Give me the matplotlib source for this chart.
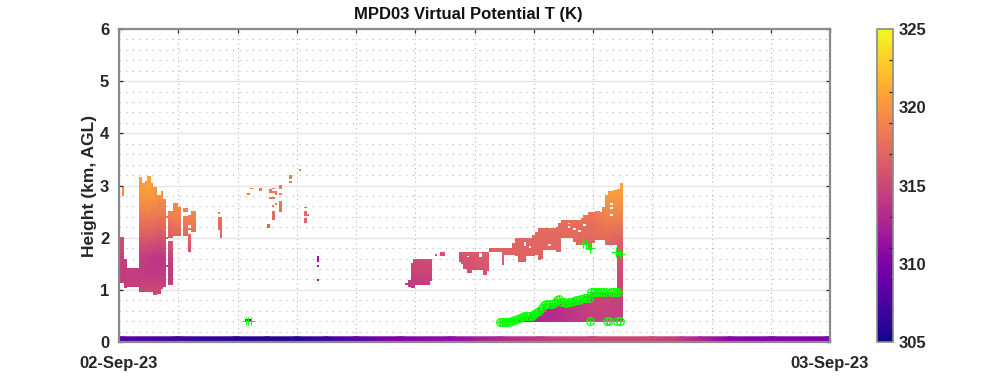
import numpy as np
import matplotlib
matplotlib.use("Agg")
import matplotlib.pyplot as plt
from matplotlib.path import Path

plt.rcParams["font.family"] = ["Liberation Sans", "DejaVu Sans"]
plt.rcParams["font.weight"] = "bold"

# virtual potential temperature (K), rows = field_km, cols = field_hours
field_hours = [0, 0.7, 1.0, 1.4, 1.8, 2.6, 4, 6, 7, 9.5, 11, 13, 14.5, 16, 16.5, 17.1]
field_km = [0.3, 0.7, 1.0, 1.3, 1.6, 2.0, 2.4, 2.8, 3.4]
field_T = [
    [314, 314, 314, 314, 314, 314, 310, 311, 311, 313, 313, 312, 313, 314.5, 314.5, 314.5],
    [314, 314, 314, 314, 314, 314, 310, 311, 311, 313, 313, 312.5, 313.2, 314.7, 314.6, 314.5],
    [314.3, 314.8, 315.2, 315, 314.8, 314.5, 312, 311.5, 311.5, 314, 314, 314.5, 314.5, 315, 315, 315],
    [314.3, 314.3, 314, 314.2, 314.2, 314.5, 312, 311.5, 311.5, 314.7, 315, 316, 316, 316, 315.7, 315.2],
    [314.5, 314.5, 314, 313.8, 314.7, 315, 312, 311.5, 311.5, 315.2, 315.5, 316.8, 316.8, 316.8, 316.3, 315.5],
    [315.5, 316.2, 316.3, 315.8, 316.7, 317.2, 316.7, 316.7, 316.7, 316, 316.5, 317, 317.2, 317.3, 317.4, 316.8],
    [318.2, 318.4, 318.5, 318, 318.7, 319.2, 317.2, 317.2, 317.2, 317, 317.3, 317.5, 317.8, 318, 319, 318.8],
    [319, 320, 320.3, 319.7, 319.5, 319.5, 318.3, 318.3, 318.3, 318, 318, 318.2, 318.4, 318.8, 320.3, 320.4],
    [319.3, 321, 321.2, 320.8, 320.3, 320, 318.7, 318.7, 318.7, 318.5, 318.5, 318.5, 318.7, 319.2, 321.5, 321.5],
]

# near-surface strip, lowest range gate
strip_hours = [0, 2, 4, 5, 6, 7, 8, 9.5, 11.2, 12.9, 14.2, 16, 18, 19, 19.6, 20.6, 22, 24]
strip_T = [308, 307, 306, 305.8, 306, 307, 308.5, 310.2, 311, 313, 314, 315, 315, 314, 312.5, 310.5, 310.3, 310]
strip_km = [0, 0.1]

# valid data boxes: hour start, hour end, km low, km high
morning_cols = [
    (0.0, 0.17, 1.13, 2.02), (0.09, 0.17, 2.79, 2.98), (0.17, 0.27, 1.03, 1.59),
    (0.27, 0.67, 1.06, 1.42), (0.67, 0.78, 0.95, 3.16), (0.78, 0.88, 0.95, 3.05),
    (0.88, 0.96, 0.95, 3.08), (0.96, 1.07, 0.95, 3.19), (1.07, 1.16, 0.95, 3.05),
    (1.16, 1.27, 0.90, 2.97), (1.27, 1.41, 0.92, 2.82), (1.41, 1.50, 1.02, 2.89),
    (1.50, 1.59, 1.06, 2.74), (1.59, 1.66, 2.38, 2.42), (1.59, 1.66, 1.98, 2.02),
    (1.59, 1.66, 1.43, 1.47), (1.66, 1.83, 1.99, 2.52), (1.66, 1.83, 1.09, 1.94),
    (1.83, 2.00, 2.04, 2.67), (2.00, 2.08, 2.04, 2.59), (2.17, 2.32, 2.04, 2.42),
    (2.17, 2.32, 2.50, 2.57), (2.34, 2.42, 1.73, 2.07), (2.34, 2.42, 2.24, 2.43),
    (2.32, 2.59, 2.15, 2.19), (2.42, 2.59, 2.10, 2.52), (3.33, 3.49, 2.15, 2.40),
    (3.41, 3.49, 2.00, 2.15), (3.33, 3.41, 2.45, 2.49),
]
scatter_cols = [
    (4.42, 4.51, 2.93, 2.96), (4.74, 4.83, 2.89, 2.96), (4.33, 4.42, 2.82, 2.86),
    (5.07, 5.16, 2.86, 2.93), (5.07, 5.32, 2.86, 2.89), (5.16, 5.25, 2.93, 2.96),
    (5.25, 5.32, 2.82, 2.89), (5.41, 5.50, 2.93, 3.01), (5.41, 5.50, 2.82, 2.86),
    (5.07, 5.25, 2.74, 2.78), (5.25, 5.32, 2.63, 2.66), (5.16, 5.23, 2.59, 2.63),
    (5.16, 5.25, 2.34, 2.51), (5.41, 5.50, 2.49, 2.70), (5.01, 5.10, 2.18, 2.26),
    (5.75, 5.84, 3.12, 3.20), (5.75, 5.84, 3.05, 3.09), (6.07, 6.16, 3.27, 3.32),
    (6.24, 6.33, 2.56, 2.59), (6.24, 6.33, 2.42, 2.51), (6.24, 6.42, 2.42, 2.45),
    (6.24, 6.33, 2.29, 2.37), (6.67, 6.74, 1.54, 1.65), (6.67, 6.74, 1.43, 1.47),
    (6.67, 6.74, 1.17, 1.21), (4.25, 4.50, 0.39, 0.44),
]
midday_cols = [
    (9.65, 9.75, 1.09, 1.125), (9.75, 9.85, 1.05, 1.19), (9.85, 9.99, 1.03, 1.51),
    (9.91, 10.5, 1.09, 1.585), (10.5, 10.57, 1.16, 1.60), (10.66, 10.74, 1.65, 1.69),
    (10.83, 10.99, 1.65, 1.73),
]
ridge_cols = [
    (11.49, 11.54, 1.54, 1.73), (11.54, 11.62, 1.50, 1.73), (11.62, 11.76, 1.39, 1.73),
    (11.76, 11.91, 1.32, 1.73), (11.91, 12.30, 1.38, 1.73), (12.30, 12.41, 1.28, 1.73),
    (12.41, 12.50, 1.37, 1.73), (12.50, 12.92, 1.73, 1.80), (12.92, 12.99, 1.48, 1.80),
    (12.99, 13.25, 1.67, 1.80), (13.25, 13.36, 1.67, 1.89), (13.36, 13.48, 1.65, 1.99),
    (13.48, 13.74, 1.54, 1.99), (13.74, 13.93, 1.65, 1.99), (13.93, 14.04, 1.65, 2.05),
    (14.04, 14.15, 1.67, 2.10), (14.15, 14.26, 1.57, 2.18), (14.26, 14.32, 1.60, 2.18),
    (14.32, 14.75, 1.76, 2.18), (14.75, 14.83, 1.73, 2.21), (14.83, 14.91, 1.73, 2.29),
    (14.91, 15.33, 1.99, 2.33), (15.33, 15.42, 1.92, 2.33), (15.42, 15.58, 1.85, 2.33),
    (15.58, 15.67, 1.85, 2.37), (15.67, 15.84, 1.85, 2.43), (15.84, 15.98, 1.76, 2.49),
    (15.98, 16.06, 1.89, 2.49), (16.06, 16.23, 1.96, 2.52), (16.23, 16.32, 1.96, 2.49),
    (16.32, 16.41, 1.96, 2.58), (16.41, 16.50, 1.85, 2.82), (16.50, 16.66, 1.85, 2.89),
    (16.66, 16.82, 1.85, 2.91), (16.82, 16.91, 0.38, 2.93), (16.91, 17.00, 0.38, 3.05),
]
wedge_cols = [
    (13.42, 13.65, 0.38, 0.42), (13.65, 13.87, 0.38, 0.47), (13.87, 14.10, 0.38, 0.53),
    (14.10, 14.27, 0.38, 0.61), (14.27, 14.49, 0.38, 0.68), (14.49, 14.83, 0.38, 0.72),
    (14.83, 15.33, 0.38, 0.79), (15.33, 15.67, 0.38, 0.82), (15.67, 15.89, 0.38, 0.89),
    (15.89, 16.85, 0.38, 0.96),
]
holes = [
    (14.49, 14.58, 1.84, 1.88), (15.16, 15.24, 2.26, 2.29), (15.16, 15.24, 2.18, 2.22),
    (15.33, 15.41, 2.14, 2.18), (15.49, 15.58, 2.10, 2.14), (15.67, 15.75, 2.22, 2.26),
    (16.57, 16.66, 2.63, 2.66), (16.57, 16.66, 2.55, 2.59), (16.57, 16.66, 2.41, 2.45),
    (11.73, 11.82, 1.62, 1.65), (12.16, 12.24, 1.62, 1.70), (13.67, 13.74, 1.84, 1.92),
    (13.85, 13.92, 1.80, 1.84),
]

# boundary layer height detections
pbl_hours = [12.85, 12.93, 13.02, 13.10, 13.18, 13.27, 13.35, 13.43, 13.52, 13.60,
             13.68, 13.77, 13.85, 13.93, 14.02, 14.10, 14.18, 14.27, 14.35, 14.43,
             14.52, 14.60, 14.68, 14.77, 14.85, 14.93, 15.02, 15.10, 15.18, 15.27,
             15.35, 15.43, 15.52, 15.60, 15.68, 15.77, 15.85, 15.93, 16.02, 16.10,
             16.18, 16.27, 16.35, 16.43, 16.60, 16.68, 16.77, 16.85]
pbl_km = [.38, .38, .38, .38, .39, .41, .43, .44, .46, .47,
          .49, .50, .50, .50, .53, .57, .60, .66, .70, .72,
          .72, .73, .75, .80, .83, .77, .76, .75, .76, .76,
          .78, .80, .80, .83, .85, .84, .84, .95, .96, .96,
          .96, .96, .96, .96, .96, .96, .96, .96]
low_hours = [4.28, 4.36, 4.44, 15.9, 16.46, 16.55, 16.8, 16.9]
low_km = [.41, .41, .41, .41, .41, .41, .41, .41]
plus_hours = [15.67, 15.78, 15.89, 16.77, 16.91]
plus_km = [1.89, 1.87, 1.81, 1.73, 1.69]

hour_ticks = [0, 2, 4, 6, 8, 10, 12, 14, 16, 18, 20, 22, 24]
hour_labels = ["02-Sep-23", "", "", "", "", "", "", "", "", "", "", "", "03-Sep-23"]
cbar_labels = [305, 310, 315, 320, 325]
cbar_minor = [307, 309, 311, 313, 317, 319, 321, 323]


def box_path(solid, cut):
    verts, codes = [], []
    for x0, x1, y0, y1 in solid:
        verts += [(x0, y0), (x1, y0), (x1, y1), (x0, y1), (x0, y0)]
        codes += [Path.MOVETO, Path.LINETO, Path.LINETO, Path.LINETO, Path.CLOSEPOLY]
    # reverse winding so these punch through
    for x0, x1, y0, y1 in cut:
        verts += [(x0, y0), (x0, y1), (x1, y1), (x1, y0), (x0, y0)]
        codes += [Path.MOVETO, Path.LINETO, Path.LINETO, Path.LINETO, Path.CLOSEPOLY]
    return Path(verts, codes)


ink = "#262626"
spine = "#8a8a8a"
green = "#00ff00"

fig = plt.figure(figsize=(10, 3.85), dpi=100)
ax = fig.add_axes([0.119, 1 - 342 / 385, 0.711, 313 / 385])
cax = fig.add_axes([0.877, 1 - 342 / 385, 0.016, 313 / 385])

mesh = ax.pcolormesh(field_hours, field_km, np.array(field_T), cmap="plasma",
                     vmin=305, vmax=325, shading="gouraud", zorder=2)
all_cols = morning_cols + scatter_cols + midday_cols + ridge_cols + wedge_cols
mesh.set_clip_path(box_path(all_cols, holes), ax.transData)

ax.pcolormesh(strip_hours, strip_km, np.vstack([strip_T, strip_T]), cmap="plasma",
              vmin=305, vmax=325, shading="gouraud", zorder=2)

ax.plot(pbl_hours, pbl_km, "o", ms=5.5, mfc="none", mec=green, mew=0.8, zorder=3)
ax.plot(pbl_hours, pbl_km, "+", ms=6, mec=green, mew=0.7, zorder=3)
ax.plot(low_hours[3:], low_km[3:], "o", ms=5.5, mfc="none", mec=green, mew=0.8, zorder=3)
ax.plot(low_hours, low_km, "+", ms=6, mec=green, mew=0.7, zorder=3)
ax.plot(plus_hours, plus_km, "+", ms=7.5, mec=green, mew=0.9, zorder=3)

ax.set_xlim(0, 24)
ax.set_ylim(0, 6)
ax.set_xticks(hour_ticks)
ax.set_xticklabels(hour_labels)
ax.set_yticks(range(7))
ax.set_yticks(np.arange(0, 6.01, 0.2), minor=True)
ax.set_axisbelow(True)
ax.grid(True, axis="y", which="major", color="#e4e4e4", lw=1.0)
ax.grid(True, axis="y", which="minor", color="#b4b4b4", lw=0.8, ls=(0, (1, 5)))
ax.grid(True, axis="x", which="major", color="#b4b4b4", lw=0.8, ls=(0, (1, 3)))
ax.tick_params(axis="both", which="major", direction="in", length=3, width=0.9,
               color=ink, labelsize=12, labelcolor=ink, top=True, right=True)
ax.tick_params(axis="x", pad=10)
ax.tick_params(axis="y", pad=7)
ax.tick_params(axis="both", which="minor", length=0)
for s in ax.spines.values():
    s.set_color(spine)
    s.set_linewidth(1.6)
ax.set_ylabel("Height (km, AGL)", fontsize=12.5, color=ink, fontweight="bold", labelpad=2)
ax.set_title("MPD03 Virtual Potential T (K)", fontsize=12, fontweight="bold", color="#111111", pad=7, x=0.4915)

cb = fig.colorbar(mesh, cax=cax)
cb.set_ticks(cbar_labels)
cb.set_ticks(cbar_minor, minor=True)
cb.ax.tick_params(which="major", length=0, pad=4, labelsize=12, labelcolor=ink)
cb.ax.tick_params(which="minor", direction="in", length=3, width=0.9, color=ink)
cb.outline.set_edgecolor(spine)
cb.outline.set_linewidth(1.2)

fig.savefig("out.png", dpi=100)
